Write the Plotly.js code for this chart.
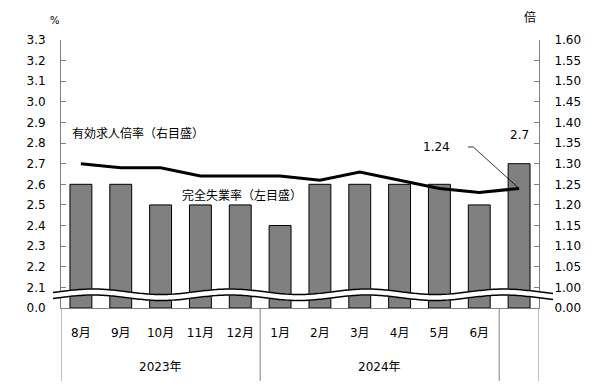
<!DOCTYPE html>
<html><head><meta charset="utf-8">
<script src="https://cdn.plot.ly/plotly-3.0.1.min.js"></script>
<style>html,body{margin:0;padding:0;background:#fff}</style>
</head><body><div id="chart" style="width:608px;height:391px"></div>
<script>
// ---- data ----
const months = ['8月','9月','10月','11月','12月','1月','2月','3月','4月','5月','6月','7月'];
const monthLabels = ['8月','9月','10月','11月','12月','1月','2月','3月','4月','5月','6月',''];
const unemploymentRate = [2.6,2.6,2.5,2.5,2.5,2.4,2.6,2.6,2.6,2.6,2.5,2.7];
const jobsRatio = [1.30,1.29,1.29,1.27,1.27,1.27,1.26,1.28,1.26,1.24,1.23,1.24];
const leftTickLabels = ['0.0','2.1','2.2','2.3','2.4','2.5','2.6','2.7','2.8','2.9','3.0','3.1','3.2','3.3'];
const rightTickLabels = ['0.00','1.00','1.05','1.10','1.15','1.20','1.25','1.30','1.35','1.40','1.45','1.50','1.55','1.60'];
const years = ['2023年','2024年'];
const lastRateLabel = '2.7';
const lastRatioLabel = '1.24';

// broken-axis offsets (value drawn at the break)
const leftBase = 2.0, rightBase = 0.95;
const lv = v => v - leftBase;
const rv = v => v - rightBase;
const leftTickVals = leftTickLabels.map(t => t === '0.0' ? 0 : lv(parseFloat(t)));
const rightTickVals = rightTickLabels.map(t => t === '0.00' ? 0 : rv(parseFloat(t)));

const FONT = 'DejaVu Sans, "Noto Sans CJK JP", sans-serif';
const L = 61, R = 539, T = 40, B = 308, W = R - L, H = B - T;
const px2x = px => (px - L) / W;
const py2y = py => (B - py) / H;

function wavePts(off) {
  const pts = [];
  for (let px = 53; px <= 553; px += 2) {
    const py = 294.75 + off - 2.75 * Math.cos(2 * Math.PI * (px - 93) / 137);
    pts.push([px2x(px), py2y(py)]);
  }
  return pts;
}
function toPath(pts) { return pts.map((p, i) => (i ? 'L' : 'M') + p[0].toFixed(5) + ',' + p[1].toFixed(5)).join(' '); }
const topW = wavePts(-3.5), botW = wavePts(3.5);
const bandPath = toPath(topW.concat(botW.slice().reverse())) + ' Z';

const traces = [
  {
    type: 'bar', x: months, y: unemploymentRate.map(lv), yaxis: 'y',
    marker: { color: '#808080', line: { color: '#000', width: 1 } },
    hoverinfo: 'skip'
  },
  {
    type: 'scatter', mode: 'lines', x: months, y: jobsRatio.map(rv), yaxis: 'y2',
    line: { color: '#000', width: 3 }, hoverinfo: 'skip'
  }
];

const ann = (o) => Object.assign({ showarrow: false, xanchor: 'center', yanchor: 'middle', font: { size: 12 } }, o);

const layout = {
  width: 608, height: 391, autosize: false,
  margin: { l: L, r: 608 - R, t: T, b: 391 - B, pad: 0 },
  paper_bgcolor: '#fff', plot_bgcolor: '#fff',
  showlegend: false, bargap: 0.45,
  font: { family: FONT, size: 12, color: '#000' },
  xaxis: {
    type: 'category', categoryarray: months, range: [-0.5, 11.5],
    tickvals: months, ticktext: monthLabels, ticks: '', ticklabelstandoff: 14,
    showline: true, linecolor: '#808080', linewidth: 1, showgrid: false, zeroline: false,
    tickfont: { family: FONT, size: 12 }
  },
  yaxis: {
    range: [0, 1.3], tickvals: leftTickVals, ticktext: leftTickLabels,
    ticks: 'inside', ticklen: 5, tickcolor: '#808080', ticklabelstandoff: 12,
    showline: true, linecolor: '#808080', linewidth: 1, showgrid: false, zeroline: false,
    tickfont: { family: FONT, size: 12 }
  },
  yaxis2: {
    overlaying: 'y', side: 'right', range: [0, 0.65], tickvals: rightTickVals, ticktext: rightTickLabels,
    ticks: 'inside', ticklen: 5, tickcolor: '#808080', ticklabelstandoff: 12,
    showline: true, linecolor: '#808080', linewidth: 1, showgrid: false, zeroline: false,
    tickfont: { family: FONT, size: 12 }
  },
  shapes: [
    { type: 'path', xref: 'paper', yref: 'paper', path: bandPath, fillcolor: '#fff', line: { width: 0 }, layer: 'above' },
    { type: 'path', xref: 'paper', yref: 'paper', path: toPath(wavePts(-3)), line: { color: '#000', width: 1.5 }, layer: 'above' },
    { type: 'path', xref: 'paper', yref: 'paper', path: toPath(wavePts(3)), line: { color: '#000', width: 1.5 }, layer: 'above' },
    { type: 'line', xref: 'x', yref: 'paper', x0: -0.5, x1: -0.5, y0: 0, y1: py2y(381), line: { color: '#808080', width: 1 } },
    { type: 'line', xref: 'x', yref: 'paper', x0: 4.5, x1: 4.5, y0: 0, y1: py2y(381), line: { color: '#808080', width: 1 } },
    { type: 'line', xref: 'x', yref: 'paper', x0: 10.5, x1: 10.5, y0: 0, y1: py2y(381), line: { color: '#808080', width: 1 } },
    { type: 'line', xref: 'x', yref: 'paper', x0: 11.5, x1: 11.5, y0: 0, y1: py2y(381), line: { color: '#808080', width: 1 } },
    { type: 'path', xref: 'x', yref: 'y2',
      path: 'M 9.72,' + (py2y(147) * 0.65).toFixed(4) + ' L 9.85,' + (py2y(147) * 0.65).toFixed(4) + ' L 11,' + rv(jobsRatio[11]).toFixed(4),
      line: { color: '#000', width: 0.8 } }
  ],
  annotations: [
    ann({ xref: 'x', yref: 'paper', x: 2, y: py2y(367), text: years[0] }),
    ann({ xref: 'x', yref: 'paper', x: 7.5, y: py2y(367), text: years[1] }),
    ann({ xref: 'paper', yref: 'paper', x: px2x(70), y: py2y(133), xanchor: 'left', text: '有効求人倍率（右目盛）' }),
    ann({ xref: 'paper', yref: 'paper', x: px2x(180), y: py2y(195), xanchor: 'left', text: '完全失業率（左目盛）' }),
    ann({ xref: 'x', yref: 'y', x: 11, y: lv(unemploymentRate[11]), yshift: 29, text: lastRateLabel }),
    ann({ xref: 'paper', yref: 'paper', x: px2x(436), y: py2y(147), text: lastRatioLabel }),
    ann({ xref: 'paper', yref: 'paper', x: px2x(55), y: py2y(20), text: '%', font: { size: 10 } }),
    ann({ xref: 'paper', yref: 'paper', x: px2x(530), y: py2y(17), text: '倍' })
  ]
};

Plotly.newPlot('chart', traces, layout, { displayModeBar: false, staticPlot: true });
</script></body></html>
